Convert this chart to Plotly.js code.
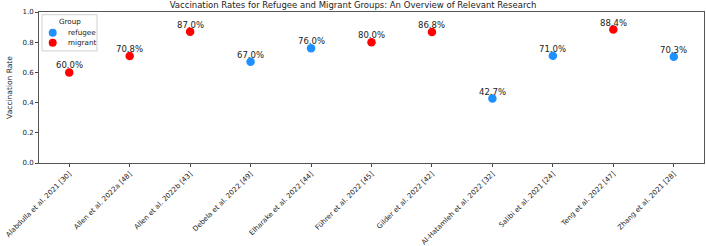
<!DOCTYPE html>
<html>
<head>
<meta charset="utf-8">
<script src="https://cdn.plot.ly/plotly-3.0.1.min.js"></script>
<style>html,body{margin:0;padding:0;background:#fff;}#chart{width:706px;height:246px;}</style>
</head>
<body>
<div id="chart"></div>
<script>
const studies = ["Alabdulla et al. 2021 [30]", "Allen et al. 2022a [48]", "Allen et al. 2022b [43]", "Debela et al. 2022 [49]", "Elharake et al. 2022 [44]", "Führer et al. 2022 [45]", "Gilder et al. 2022 [42]", "Al-Hatamleh et al. 2022 [32]", "Salibi et al. 2021 [24]", "Teng et al. 2022 [47]", "Zhang et al. 2021 [28]"];
const groups = ["migrant", "migrant", "migrant", "refugee", "refugee", "migrant", "migrant", "refugee", "refugee", "migrant", "refugee"];
const rates = [0.600, 0.708, 0.870, 0.670, 0.760, 0.800, 0.868, 0.427, 0.710, 0.884, 0.703];
const groupOrder = ["refugee", "migrant"];
const groupColors = {refugee: "#1E90FF", migrant: "#FF0000"};

const font = "DejaVu Sans, sans-serif";
const traces = groupOrder.map(g => {
  const xs = [], ys = [];
  studies.forEach((s, i) => { if (groups[i] === g) { xs.push(i); ys.push(rates[i]); } });
  return {x: xs, y: ys, type: "scatter", mode: "markers", name: g,
    marker: {color: groupColors[g], size: 8.5}, hoverinfo: "skip"};
});
const annotations = studies.map((s, i) => ({
  x: i, y: rates[i], xref: "x", yref: "y", text: (rates[i] * 100).toFixed(1) + "%",
  showarrow: false, yshift: 7, font: {family: font, size: 8.5, color: "#222"}
}));

// Legend drawn in paper coordinates (matplotlib-like compact legend)
const shapes = [{type: "rect", xref: "paper", yref: "paper", x0: 0.0045, x1: 0.0872, y0: 0.742, y1: 0.982,
  line: {color: "#d0d0d0", width: 1}, fillcolor: "rgba(255,255,255,0.8)", layer: "above"}];
annotations.push({xref: "paper", yref: "paper", x: 0.0466, y: 0.934, text: "Group", showarrow: false,
  xanchor: "center", yanchor: "middle", font: {family: font, size: 7.2, color: "#222"}});
const legendY = [0.863, 0.797];
groupOrder.forEach((g, k) => {
  shapes.push({type: "circle", xref: "paper", yref: "paper", xsizemode: "pixel", ysizemode: "pixel",
    xanchor: 0.0206, yanchor: legendY[k], x0: -4, x1: 4, y0: -4, y1: 4,
    fillcolor: groupColors[g], line: {width: 0}, layer: "above"});
  annotations.push({xref: "paper", yref: "paper", x: 0.0401, y: legendY[k], text: g, showarrow: false,
    xanchor: "left", yanchor: "middle", font: {family: font, size: 7.2, color: "#222"}});
});

const layout = {
  width: 706, height: 246,
  margin: {l: 39, r: 2, t: 12, b: 83},
  paper_bgcolor: "#fff", plot_bgcolor: "#fff",
  font: {family: font, color: "#222"},
  title: {text: "Vaccination Rates for Refugee and Migrant Groups: An Overview of Relevant Research",
    font: {family: font, size: 8.5, color: "#222"}, x: 0.5, xanchor: "center", y: 0.99, yanchor: "top"},
  xaxis: {range: [-0.5, 10.5], tickmode: "array", tickvals: studies.map((s, i) => i), ticktext: studies,
    tickangle: -45, tickfont: {family: font, size: 7, color: "#222"},
    ticks: "outside", ticklen: 3, tickcolor: "#444", showgrid: false, zeroline: false,
    showline: true, linecolor: "#555", linewidth: 1, mirror: true},
  yaxis: {range: [0, 1], tickvals: [0, 0.2, 0.4, 0.6, 0.8, 1.0], ticktext: ["0.0", "0.2", "0.4", "0.6", "0.8", "1.0"],
    tickfont: {family: font, size: 7, color: "#222"}, ticks: "outside", ticklen: 3, tickcolor: "#444",
    showgrid: false, zeroline: false, showline: true, linecolor: "#555", linewidth: 1, mirror: true,
    title: {text: "Vaccination Rate", font: {family: font, size: 7.5, color: "#222"}, standoff: 8}},
  shapes: shapes,
  annotations: annotations,
  showlegend: false
};
Plotly.newPlot("chart", traces, layout, {staticPlot: true, displayModeBar: false});
</script>
</body>
</html>
